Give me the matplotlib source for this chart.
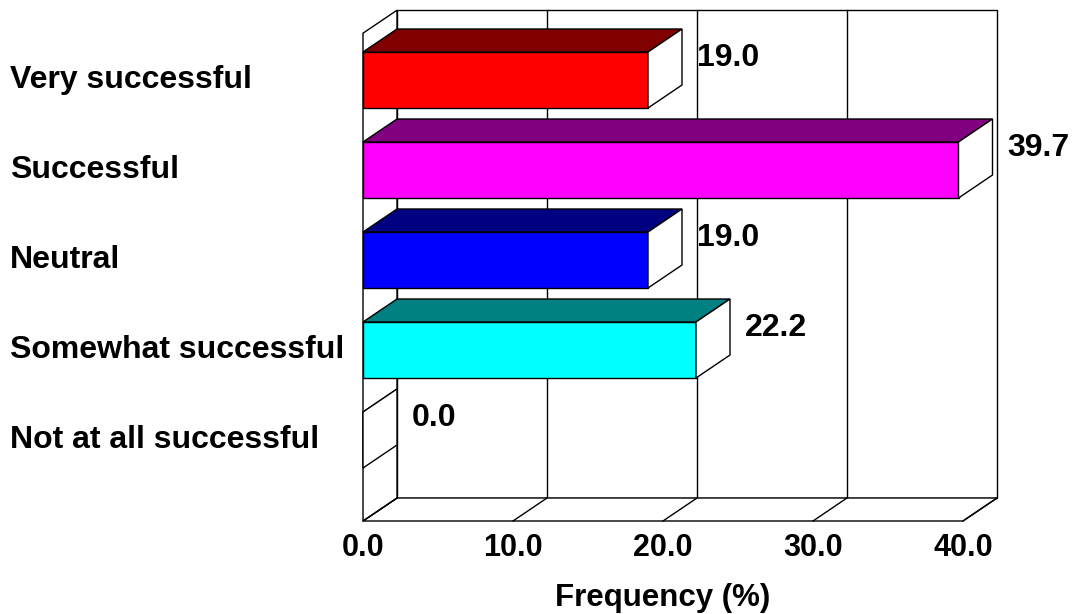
"""Survey responses: perceived success, drawn as a 3-D style horizontal bar chart."""

import matplotlib

matplotlib.use("Agg")
import matplotlib.pyplot as plt
from matplotlib.patches import Polygon

categories = ["Very successful", "Successful", "Neutral",
              "Somewhat successful", "Not at all successful"]
values = [19.0, 39.7, 19.0, 22.2, 0.0]
front_colors = ["#FF0000", "#FF00FF", "#0000FF", "#00FFFF", "#FFFFFF"]
top_colors = ["#800000", "#800080", "#000080", "#008080", "#FFFFFF"]
xticks = [0, 10, 20, 30, 40]

# layout of the pseudo-3D box (value units on x, category slots on y)
W, H, DPI = 1075, 614, 100
X0_PX, PX_PER_UNIT = 363, 15.0
Y0_PX, PX_PER_SLOT = 80, 90.0
DX = 34 / PX_PER_UNIT          # depth offset, right
DY = -23 / PX_PER_SLOT         # depth offset, up
HALF = 28 / PX_PER_SLOT        # half bar height
Y_TOP, Y_BOT = -0.52, 4.9      # front plane extent
XMAX = 40

plt.rcParams["font.family"] = ["Liberation Sans", "DejaVu Sans"]
plt.rcParams["font.weight"] = "bold"

fig = plt.figure(figsize=(W / DPI, H / DPI), dpi=DPI)
ax = fig.add_axes([0, 0, 1, 1])
ax.set_xlim(-X0_PX / PX_PER_UNIT, (W - X0_PX) / PX_PER_UNIT)
ax.set_ylim((H - Y0_PX) / PX_PER_SLOT, -Y0_PX / PX_PER_SLOT)
ax.axis("off")

LW = 1.0
edge = dict(edgecolor="black", linewidth=LW, joinstyle="miter")


def poly(pts, fc, z):
    ax.add_patch(Polygon(pts, closed=True, facecolor=fc, zorder=z, **edge))


# back wall, gridlines, floor and side wall
poly([(DX, Y_TOP + DY), (XMAX + DX, Y_TOP + DY),
      (XMAX + DX, Y_BOT + DY), (DX, Y_BOT + DY)], "white", 1)
for v in xticks[1:-1]:
    ax.plot([v + DX, v + DX], [Y_TOP + DY, Y_BOT + DY], color="black", lw=LW, zorder=2)
poly([(0, Y_BOT), (XMAX, Y_BOT), (XMAX + DX, Y_BOT + DY), (DX, Y_BOT + DY)], "white", 2)
for v in xticks:
    ax.plot([v, v + DX], [Y_BOT, Y_BOT + DY], color="black", lw=LW, zorder=3)
poly([(0, Y_TOP), (DX, Y_TOP + DY), (DX, Y_BOT + DY), (0, Y_BOT)], "white", 2)

# bars: front face, top face, end face
for i, (v, fc, tc) in enumerate(zip(values, front_colors, top_colors)):
    top, bot = i - HALF, i + HALF
    poly([(0, top), (v, top), (v, bot), (0, bot)], fc, 5)
    poly([(0, top), (v, top), (v + DX, top + DY), (DX, top + DY)], tc, 5)
    poly([(v, top), (v + DX, top + DY), (v + DX, bot + DY), (v, bot)], "white", 5)
    ax.text(v + DX + 1.0, i - 0.24, f"{v:.1f}", fontsize=23, fontweight="bold",
            ha="left", va="center", zorder=6)

# category labels
ytr = ax.get_yaxis_transform()
for i, name in enumerate(categories):
    ax.text(10 / W, i, name, transform=ytr, fontsize=23, fontweight="bold",
            ha="left", va="center")

# value axis labels
for v in xticks:
    ax.text(v, (548 - Y0_PX) / PX_PER_SLOT, f"{v:.1f}", fontsize=22,
            fontweight="bold", ha="center", va="center")
ax.text(20, (598 - Y0_PX) / PX_PER_SLOT, "Frequency (%)", fontsize=22.5,
        fontweight="bold", ha="center", va="center")

fig.savefig("out.png", dpi=DPI)
